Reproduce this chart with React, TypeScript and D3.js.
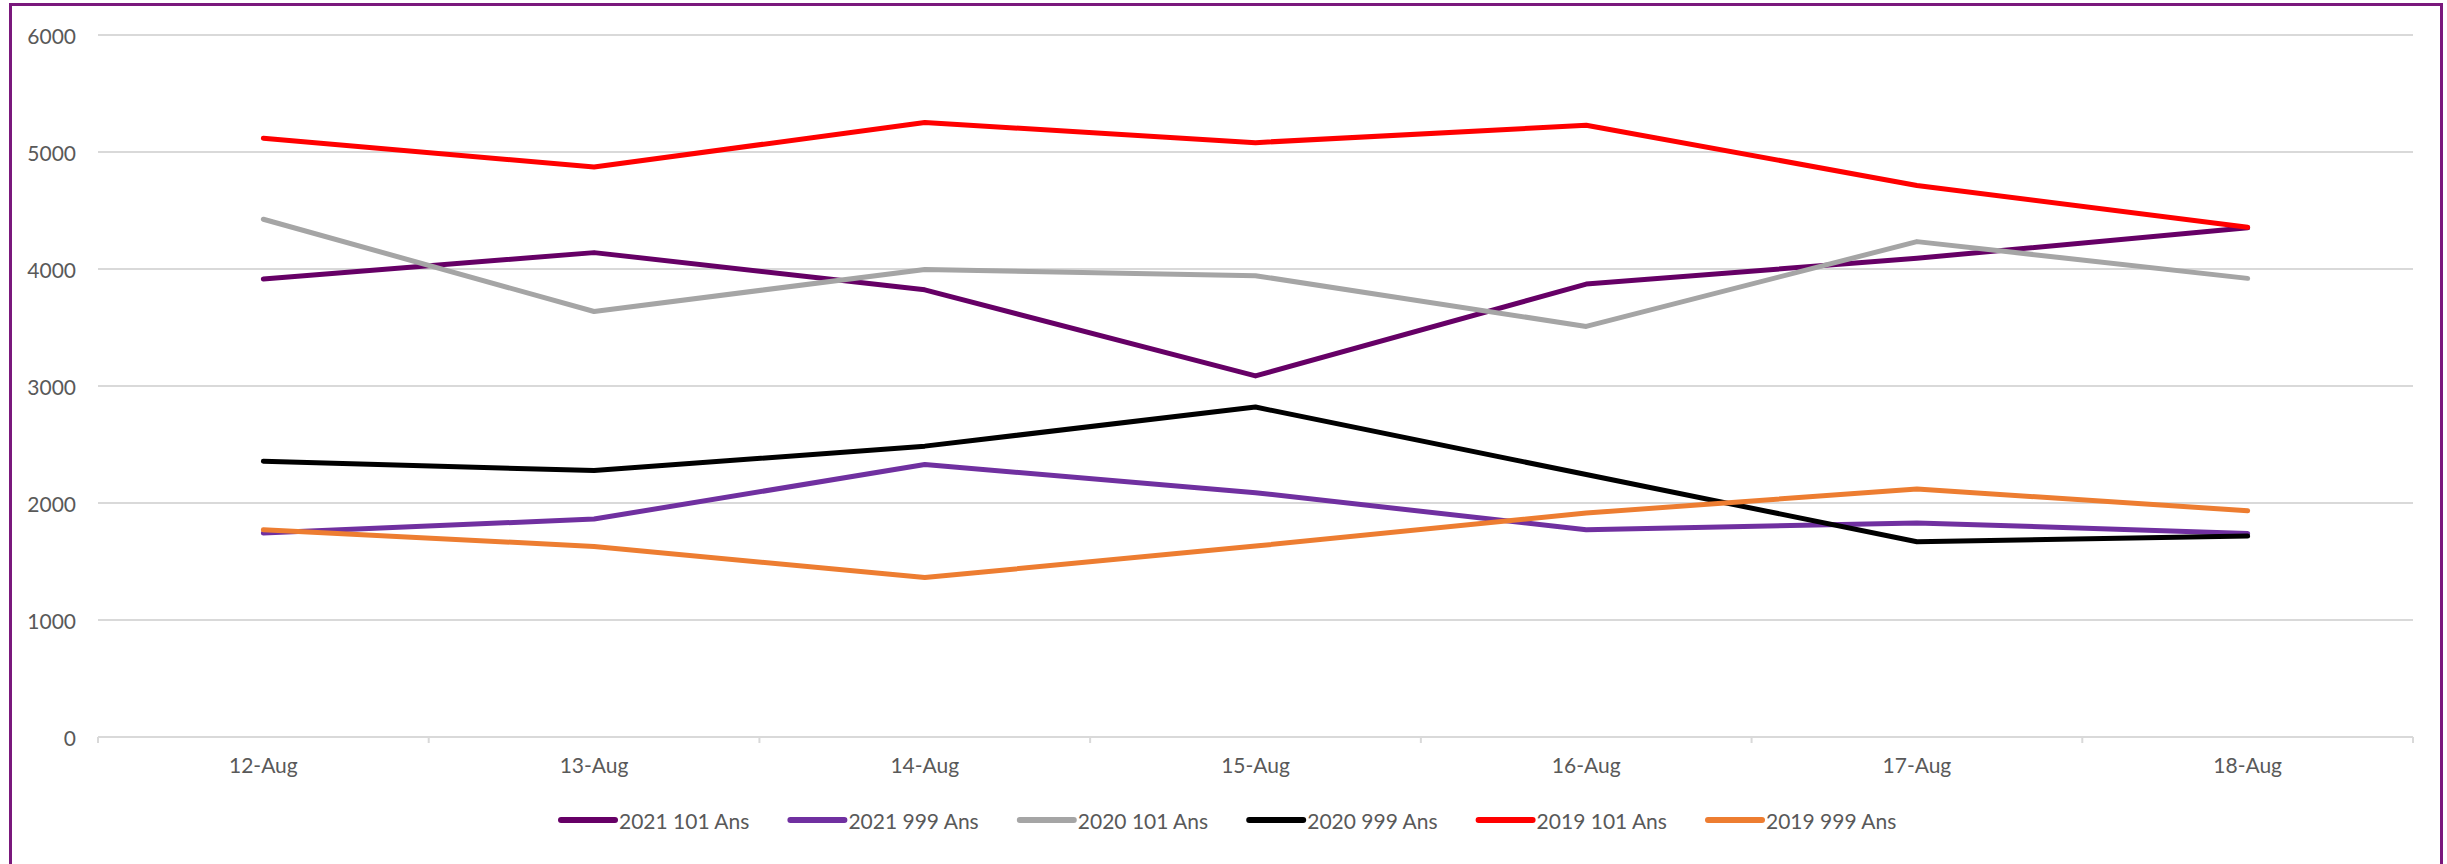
import * as d3 from "d3";
import { useRef, useEffect } from "react";

const days = ["12-Aug", "13-Aug", "14-Aug", "15-Aug", "16-Aug", "17-Aug", "18-Aug"];
const yTicks = [0, 1000, 2000, 3000, 4000, 5000, 6000];

const seriesNames = ["2021 101 Ans", "2021 999 Ans", "2020 101 Ans", "2020 999 Ans", "2019 101 Ans", "2019 999 Ans"];
const seriesColors = ["#660066", "#7030a0", "#a5a5a5", "#000000", "#ff0000", "#ed7d31"];

const values2021_101 = [3915, 4140, 3822, 3086, 3871, 4092, 4352];
const values2021_999 = [1743, 1863, 2329, 2088, 1771, 1830, 1740];
const values2020_101 = [4425, 3637, 3996, 3943, 3509, 4234, 3920];
const values2020_999 = [2357, 2277, 2486, 2820, 2243, 1669, 1717];
const values2019_101 = [5118, 4872, 5252, 5080, 5229, 4714, 4357];
const values2019_999 = [1771, 1629, 1363, 1632, 1914, 2120, 1934];

const allValues = [values2021_101, values2021_999, values2020_101, values2020_999, values2019_101, values2019_999];

const FONT = "Lato, 'Open Sans', sans-serif";
const TEXT = "#595959";
const GRID = "#d9d9d9";

const Chart = () => {
  const ref = useRef<SVGSVGElement>(null);

  useEffect(() => {
    document.body.style.margin = "0";
    const svg = d3.select(ref.current);
    svg.selectAll("*").remove();

    const left = 98;
    const right = 2413;
    const top = 35;
    const bottom = 737;

    // chart border
    svg.append("rect")
      .attr("x", 10.5)
      .attr("y", 4.5)
      .attr("width", 2431)
      .attr("height", 900)
      .attr("fill", "white")
      .attr("stroke", "#7a187c")
      .attr("stroke-width", 3);

    const x = d3.scaleBand().domain(days).range([left, right]);
    const y = d3.scaleLinear().domain([0, 6000]).range([bottom, top]);
    const cx = (d: string) => (x(d) as number) + x.bandwidth() / 2;

    // gridlines
    svg.append("g")
      .selectAll("line")
      .data(yTicks.filter((t) => t > 0))
      .join("line")
      .attr("x1", left)
      .attr("x2", right)
      .attr("y1", (d) => y(d))
      .attr("y2", (d) => y(d))
      .attr("stroke", GRID)
      .attr("stroke-width", 2);

    // y labels
    svg.append("g")
      .selectAll("text")
      .data(yTicks)
      .join("text")
      .attr("x", 76)
      .attr("y", (d) => y(d))
      .attr("text-anchor", "end")
      .attr("dominant-baseline", "central")
      .style("font-family", FONT)
      .style("font-size", "21px")
      .attr("fill", TEXT)
      .text((d) => d);

    // x axis with ticks between categories
    const xAxis = svg.append("g");
    xAxis.append("line")
      .attr("x1", left)
      .attr("x2", right)
      .attr("y1", bottom)
      .attr("y2", bottom)
      .attr("stroke", GRID)
      .attr("stroke-width", 2);
    const bounds = [...days.map((d) => x(d) as number), right];
    xAxis.selectAll("line.tick")
      .data(bounds)
      .join("line")
      .attr("class", "tick")
      .attr("x1", (d) => d)
      .attr("x2", (d) => d)
      .attr("y1", bottom)
      .attr("y2", bottom + 6)
      .attr("stroke", GRID)
      .attr("stroke-width", 2);
    xAxis.selectAll("text")
      .data(days)
      .join("text")
      .attr("x", (d) => cx(d))
      .attr("y", 773)
      .attr("text-anchor", "middle")
      .style("font-family", FONT)
      .style("font-size", "21px")
      .attr("fill", TEXT)
      .text((d) => d);

    // series lines
    const line = d3.line<number>()
      .x((_, i) => cx(days[i]))
      .y((d) => y(d));

    svg.append("g")
      .selectAll("path")
      .data(allValues)
      .join("path")
      .attr("d", (d) => line(d))
      .attr("fill", "none")
      .attr("stroke", (_, i) => seriesColors[i])
      .attr("stroke-width", 5)
      .attr("stroke-linejoin", "round")
      .attr("stroke-linecap", "round");

    // legend
    const legend = svg.append("g")
      .selectAll("g")
      .data(seriesNames)
      .join("g")
      .attr("transform", (_, i) => `translate(${561 + i * 229.4}, 820)`);
    legend.append("line")
      .attr("x1", 0)
      .attr("x2", 54)
      .attr("stroke", (_, i) => seriesColors[i])
      .attr("stroke-width", 6)
      .attr("stroke-linecap", "round");
    legend.append("text")
      .attr("x", 58)
      .attr("dominant-baseline", "central")
      .style("font-family", FONT)
      .style("font-size", "21px")
      .attr("fill", TEXT)
      .text((d) => d);
  }, []);

  return <svg ref={ref} width={2447} height={864} style={{ display: "block" }} />;
};

export default function App() {
  return <Chart />;
}
